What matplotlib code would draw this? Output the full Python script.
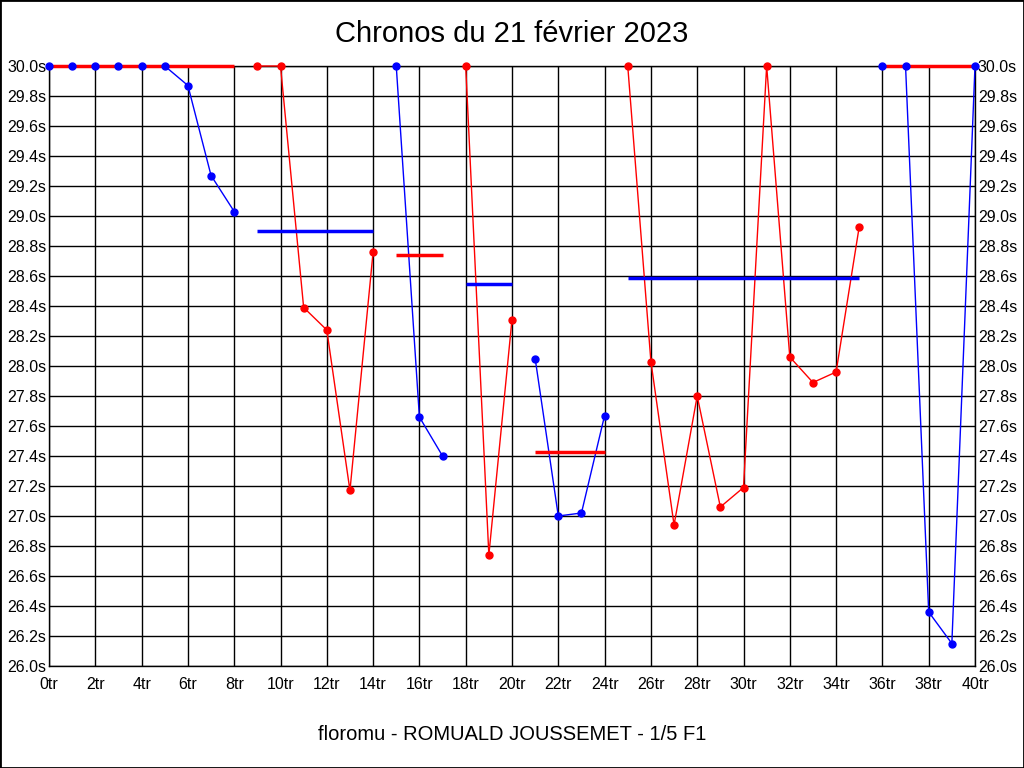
import matplotlib
matplotlib.use("Agg")
import matplotlib.pyplot as plt
import numpy as np
from matplotlib.patches import Rectangle

plt.rcParams['font.family'] = ['Liberation Sans', 'DejaVu Sans']

# lap times per relay segment (laps, seconds)
seg_laps = [
    [0, 1, 2, 3, 4, 5, 6, 7, 8],
    [9, 10, 11, 12, 13, 14],
    [15, 16, 17],
    [18, 19, 20],
    [21, 22, 23, 24],
    [25, 26, 27, 28, 29, 30, 31, 32, 33, 34, 35],
    [36, 37, 38, 39, 40],
]
seg_times = [
    [30.0, 30.0, 30.0, 30.0, 30.0, 30.0, 29.87, 29.27, 29.03],
    [30.0, 30.0, 28.39, 28.24, 27.17, 28.76],
    [30.0, 27.66, 27.40],
    [30.0, 26.74, 28.31],
    [28.05, 27.00, 27.02, 27.67],
    [30.0, 28.03, 26.94, 27.80, 27.06, 27.19, 30.0, 28.06, 27.89, 27.96, 28.93],
    [30.0, 30.0, 26.36, 26.15, 30.0],
]
seg_colors = ['blue', 'red', 'blue', 'red', 'blue', 'red', 'blue']
# average line of each segment (drawn in the other colour)
seg_avg = [30.0, 28.90, 28.74, 28.55, 27.43, 28.59, 30.0]

title = "Chronos du 21 février 2023"
footer = "floromu - ROMUALD JOUSSEMET - 1/5 F1"

x_ticks = np.arange(0, 41, 2)
y_ticks = np.arange(26.0, 30.01, 0.2)

fig = plt.figure(figsize=(10.24, 7.68), dpi=100)
fig.patch.set_facecolor('white')
ax = fig.add_axes([49 / 1024, 1 - 666 / 768, (975 - 49) / 1024, 600 / 768])

for laps, times, col, avg in zip(seg_laps, seg_times, seg_colors, seg_avg):
    other = 'red' if col == 'blue' else 'blue'
    ax.plot(laps, times, color=col, linewidth=1, zorder=3, clip_on=False)
    ax.plot([laps[0], laps[-1]], [avg, avg], color=other, linewidth=2.5,
            zorder=4, clip_on=False, solid_capstyle='butt')
    ax.plot(laps, times, linestyle='none', marker='o', markersize=5,
            color=col, zorder=5, clip_on=False)

ax.set_xlim(0, 40)
ax.set_ylim(26.0, 30.0)
ax.set_xticks(x_ticks)
ax.set_xticklabels([f"{x}tr" for x in x_ticks])
ax.set_yticks(y_ticks)
ax.set_yticklabels([f"{y:.1f}s" for y in y_ticks])
ax.tick_params(axis='both', length=0, labelsize=11.5, colors='black')
ax.tick_params(axis='y', labelright=True, pad=2)
ax.tick_params(axis='x', pad=8)
ax.grid(True, color='black', linewidth=1)
ax.set_axisbelow(True)
for sp in ax.spines.values():
    sp.set_color('black')
    sp.set_linewidth(1)

fig.text(0.5, 1 - 34 / 768, title, ha='center', va='center', fontsize=21)
fig.text(0.5, 1 - 734 / 768, footer, ha='center', va='center', fontsize=14.5)

fig.patches.append(Rectangle((0, 0), 1, 1, transform=fig.transFigure,
                             fill=False, edgecolor='black', linewidth=2))

fig.savefig("out.png", dpi=100)
